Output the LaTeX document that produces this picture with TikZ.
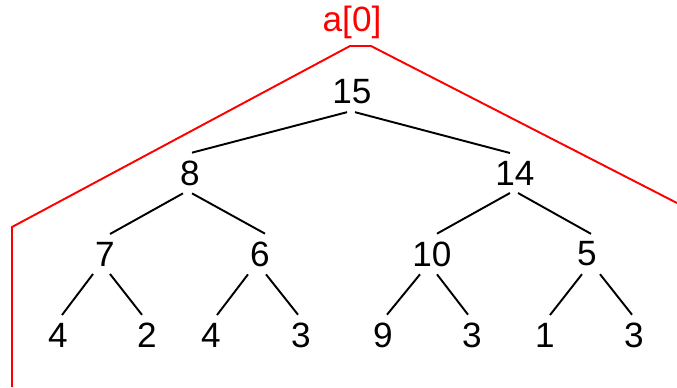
\documentclass[tikz,border=0pt]{standalone}
\usepackage{fontspec}
\setmainfont{Liberation Sans}
\usetikzlibrary{calc}

\begin{document}
\begin{tikzpicture}[x=0.02cm, y=-0.02cm,
    num/.style={inner xsep=1pt, inner ysep=4.3pt, font=\fontsize{20}{24}\selectfont},
    edge/.style={line width=1.1pt},
    bracket/.style={red, line width=1.1pt}]
\useasboundingbox (0,0) rectangle (677,387);

% heap as a tree
\node[num] (r)   at (352,92)  {15};
\node[num] (l)   at (190,173) {8};
\node[num] (rr)  at (515,173) {14};
\node[num] (ll)  at (105,254) {7};
\node[num] (lr)  at (260,254) {6};
\node[num] (rl)  at (432,254) {10};
\node[num] (rrr) at (587,254) {5};
\node[num] (a1)  at (58,335)  {4};
\node[num] (a2)  at (147,335) {2};
\node[num] (a3)  at (211,335) {4};
\node[num] (a4)  at (301,335) {3};
\node[num] (a5)  at (383,335) {9};
\node[num] (a6)  at (472,335) {3};
\node[num] (a7)  at (545,335) {1};
\node[num] (a8)  at (634,335) {3};

\draw[edge] ($(r.south)+(-5,0)$) -- ($(l.north)+(2,0)$);
\draw[edge] ($(r.south)+(3,0)$) -- ($(rr.north)+(-5,0)$);
\draw[edge] ($(l.south)+(-7,0)$) -- ($(ll.north)+(5,0)$);
\draw[edge] ($(l.south)+(2,0)$) -- ($(lr.north)+(5,0)$);
\draw[edge] ($(rr.south)+(-5,0)$) -- ($(rl.north)+(5,0)$);
\draw[edge] ($(rr.south)+(3,0)$) -- ($(rrr.north)+(4,0)$);
\draw[edge] ($(ll.south)+(-12,0)$) -- ($(a1.north)+(4,0)$);
\draw[edge] ($(ll.south)+(5,0)$) -- ($(a2.north)+(-5,0)$);
\draw[edge] ($(lr.south)+(-12,0)$) -- ($(a3.north)+(6,0)$);
\draw[edge] ($(lr.south)+(6,0)$) -- ($(a4.north)+(-3,0)$);
\draw[edge] ($(rl.south)+(-12,0)$) -- ($(a5.north)+(4,0)$);
\draw[edge] ($(rl.south)+(5,0)$) -- ($(a6.north)+(-4,0)$);
\draw[edge] ($(rrr.south)+(-5,0)$) -- ($(a7.north)+(5,0)$);
\draw[edge] ($(rrr.south)+(13,0)$) -- ($(a8.north)+(-2,0)$);

% the array element
\node[num, red, inner sep=1pt] (lbl) at (352,22) {a[0]};
\coordinate (bl) at (12,387);
\coordinate (kl) at (12,227);
\coordinate (tl) at (350,46);
\coordinate (tr) at (371,46);
\coordinate (br) at (677,203);
\draw[bracket] (bl) -- (kl) -- (tl) -- (tr) -- (br);
\end{tikzpicture}
\end{document}
